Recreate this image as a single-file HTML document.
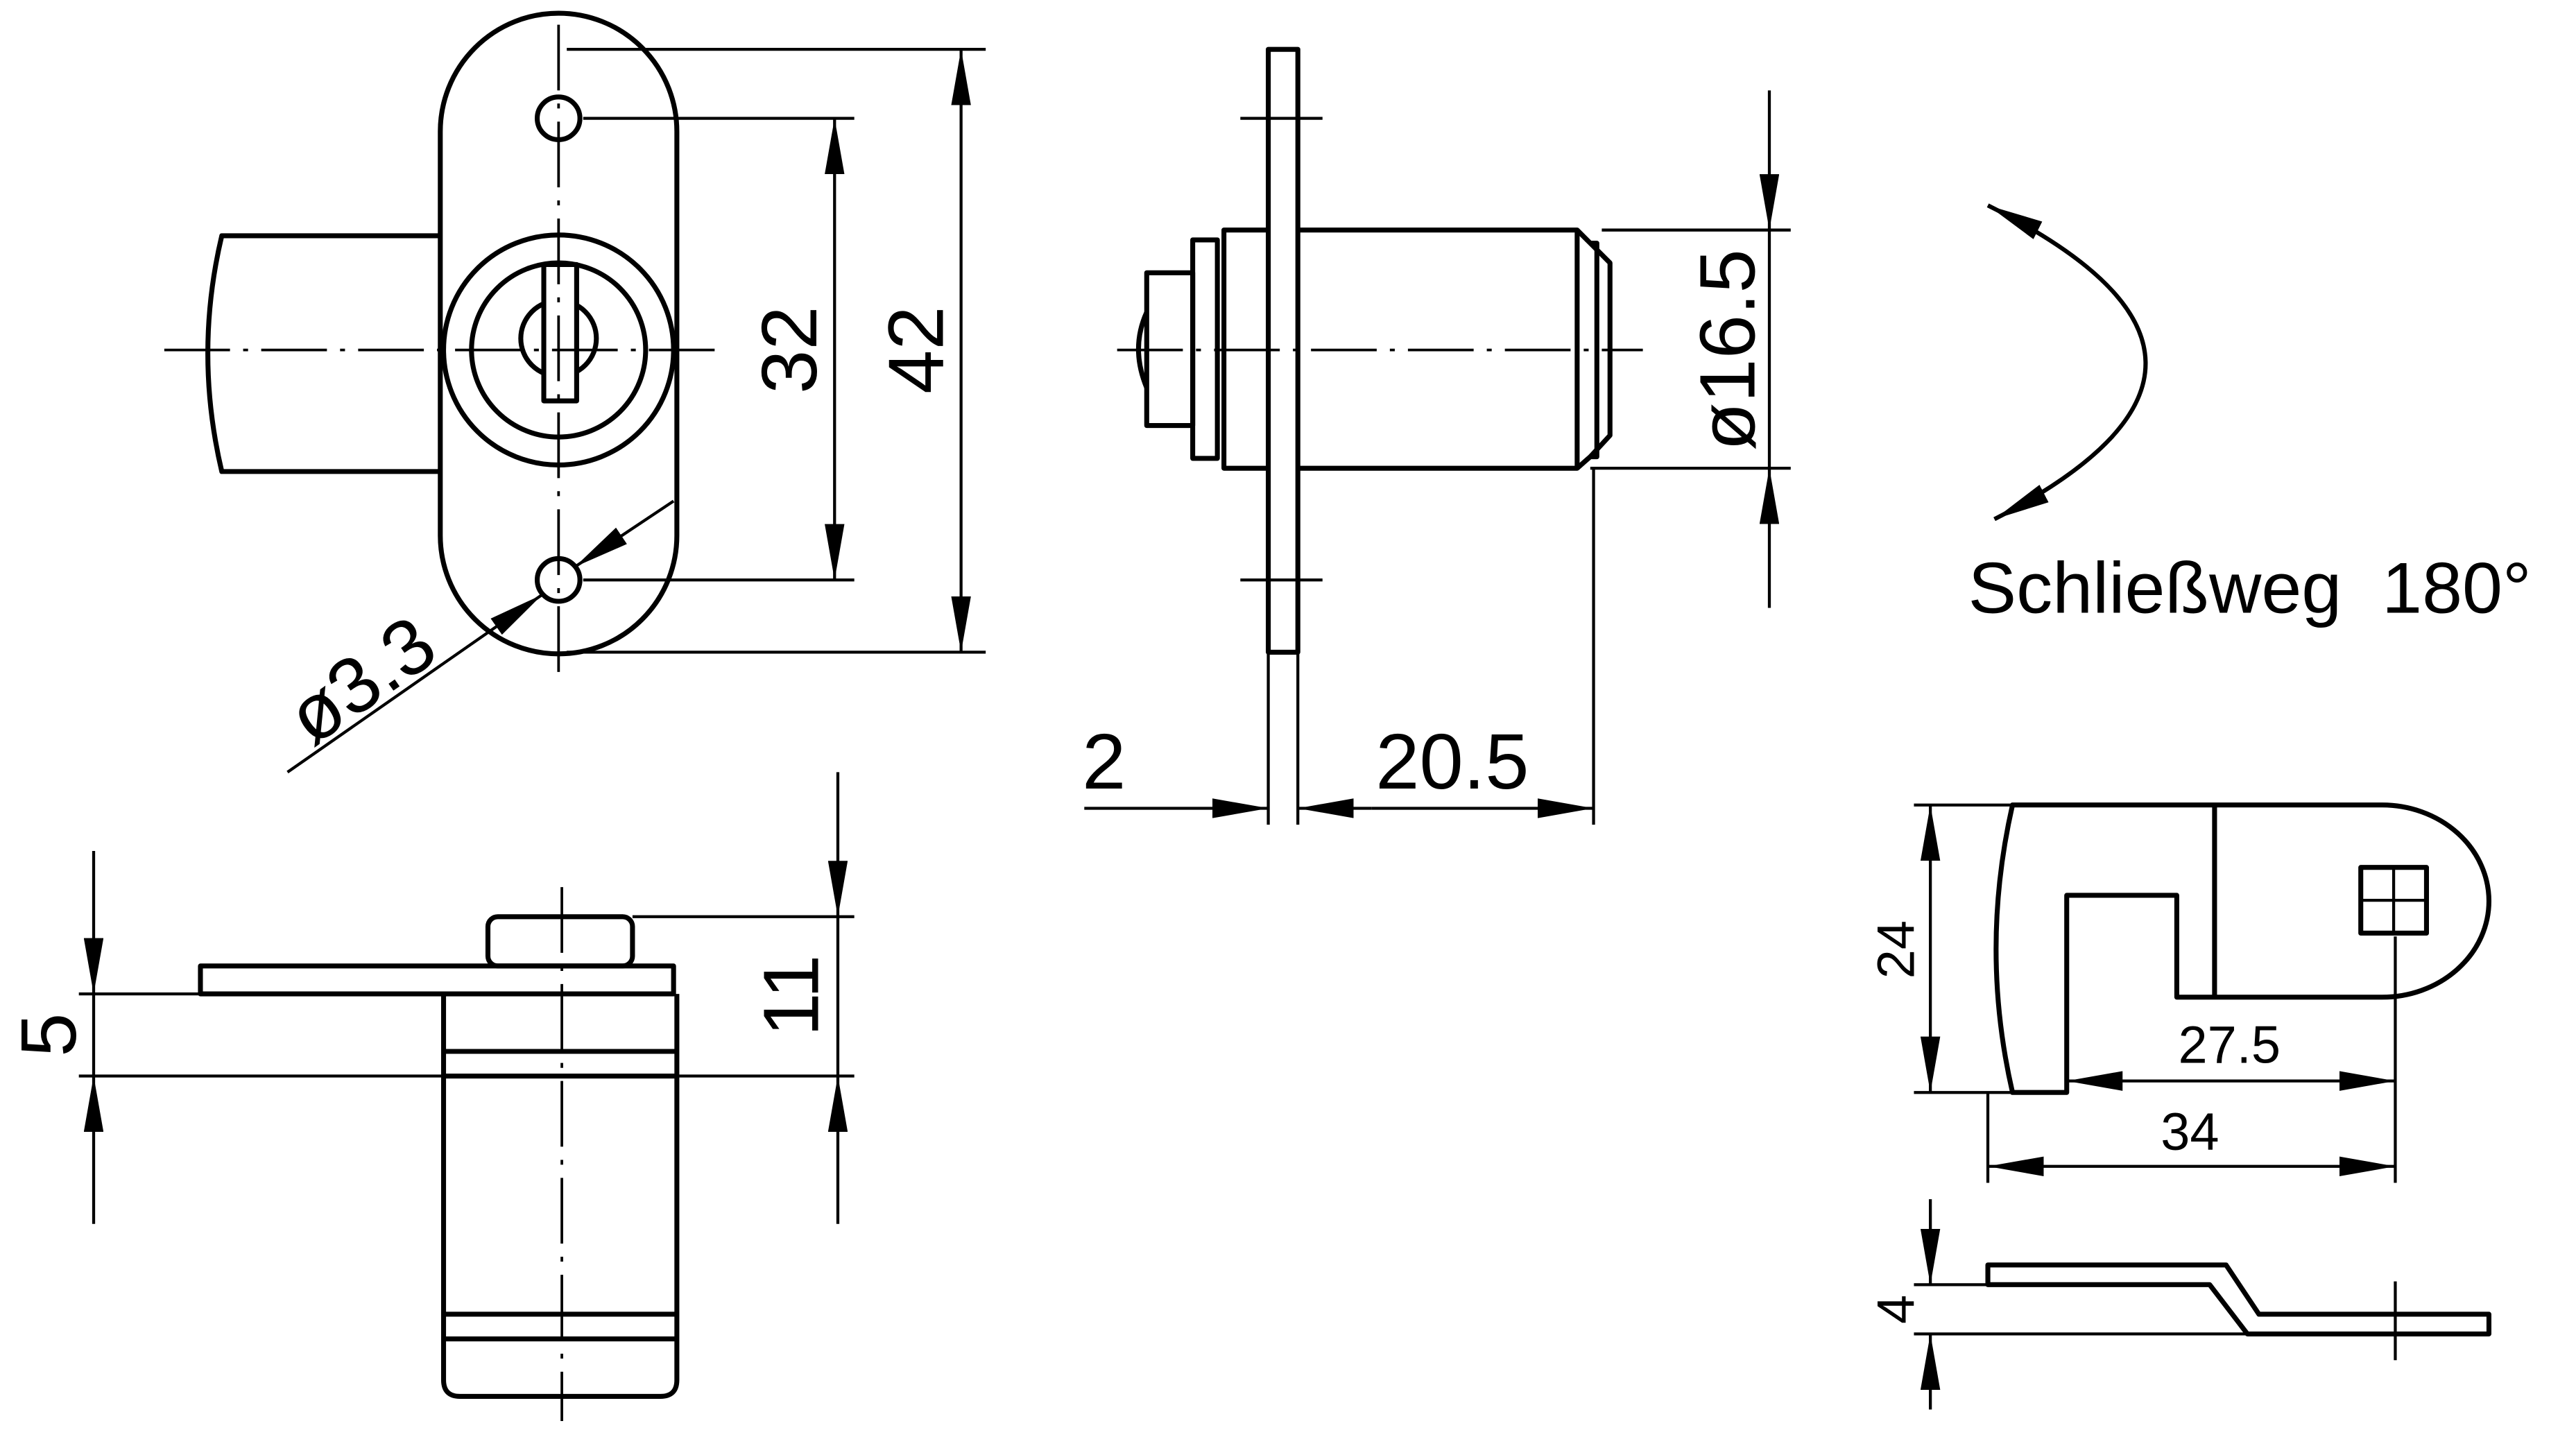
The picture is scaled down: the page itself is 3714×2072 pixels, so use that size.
<!DOCTYPE html>
<html><head><style>html,body{margin:0;padding:0;background:#fff}svg{display:block}</style></head><body>
<svg width="3714" height="2072" viewBox="0 0 1568 874.7" xmlns="http://www.w3.org/2000/svg" font-family="Liberation Sans, sans-serif">
<defs>
<marker id="a" viewBox="0 0 34 12" refX="34" refY="6" markerWidth="34" markerHeight="12" markerUnits="userSpaceOnUse" orient="auto-start-reverse"><path d="M0,0 L34,6 L0,12 Z" fill="#000"/></marker>
</defs>
<g fill="none" stroke="#000" stroke-width="3" stroke-linejoin="round">
<path d="M268,143.5 L135,143.5 Q118,215 135,287 L268,287"/>
<rect x="268" y="8" width="144" height="390" rx="72" fill="#fff"/>
<circle cx="340" cy="213" r="70"/>
<circle cx="340" cy="213" r="53"/>
<circle cx="340" cy="206" r="23"/>
<rect x="331" y="161" width="20" height="83" fill="#fff"/>
<circle cx="340" cy="72" r="13"/>
<circle cx="340" cy="353" r="13"/>
<rect x="772" y="30" width="18" height="367"/>
<path d="M790,140 L960,140 L968,148 L972,148 L972,278 L968,278 L960,285 L790,285"/>
<line x1="960" y1="140" x2="960" y2="285"/>
<path d="M968,148 L980,160 L980,265 L968,278"/>
<path d="M772,140 L745,140 L745,285 L772,285"/>
<rect x="726" y="146" width="15" height="133"/>
<rect x="698" y="166" width="28" height="93"/>
<path d="M698,190 Q688,212 698,236"/>
<rect x="122" y="588" width="288" height="17"/>
<rect x="297" y="558" width="88" height="30" rx="6"/>
<path d="M270,605 L270,840 Q270,850 280,850 L402,850 Q412,850 412,840 L412,605"/>
<line x1="270" y1="640" x2="412" y2="640"/>
<line x1="270" y1="655" x2="412" y2="655"/>
<line x1="270" y1="800" x2="412" y2="800"/>
<line x1="270" y1="815" x2="412" y2="815"/>
<path d="M1225,490 L1450,490 A65,58.5 0 0 1 1450,607 L1325,607 L1325,545 L1258,545 L1258,665 L1225,665 Q1205,578 1225,490 Z"/>
<line x1="1348" y1="490" x2="1348" y2="607"/>
<rect x="1437" y="528" width="40" height="40"/>
<path d="M1210,770 L1355,770 L1375,800 L1515,800 L1515,812 L1368,812 L1345,782 L1210,782 Z"/>
<path d="M1210,125 Q1400,220 1214,316" marker-start="url(#a)" marker-end="url(#a)" stroke-width="2.6"/>
</g>
<g fill="none" stroke="#000" stroke-width="1.6" stroke-dasharray="40,8,3,8">
<line x1="100" y1="213" x2="440" y2="213"/>
<line x1="340" y1="15" x2="340" y2="410"/>
<line x1="680" y1="213" x2="1000" y2="213"/>
<line x1="342" y1="540" x2="342" y2="865"/>
</g>
<g fill="none" stroke="#000" stroke-width="1.8">
<line x1="755" y1="72" x2="805" y2="72"/><line x1="755" y1="353" x2="805" y2="353"/>
<line x1="1437" y1="548" x2="1477" y2="548"/><line x1="1457" y1="528" x2="1457" y2="568"/>
<line x1="1458" y1="780" x2="1458" y2="828"/>
<line x1="355" y1="72" x2="520" y2="72"/><line x1="355" y1="353" x2="520" y2="353"/>
<line x1="508" y1="72" x2="508" y2="353" marker-start="url(#a)" marker-end="url(#a)"/>
<line x1="345" y1="30" x2="600" y2="30"/><line x1="345" y1="397" x2="600" y2="397"/>
<line x1="585" y1="30" x2="585" y2="397" marker-start="url(#a)" marker-end="url(#a)"/>
<line x1="175" y1="470" x2="330" y2="362" marker-end="url(#a)"/>
<line x1="410" y1="305" x2="350" y2="345" marker-end="url(#a)"/>
<line x1="975" y1="140" x2="1090" y2="140"/><line x1="968" y1="285" x2="1090" y2="285"/>
<line x1="1077" y1="55" x2="1077" y2="140" marker-end="url(#a)"/>
<line x1="1077" y1="370" x2="1077" y2="285" marker-end="url(#a)"/>
<line x1="1077" y1="140" x2="1077" y2="285"/>
<line x1="772" y1="397" x2="772" y2="502"/><line x1="790" y1="397" x2="790" y2="502"/><line x1="970" y1="285" x2="970" y2="502"/>
<line x1="660" y1="492" x2="772" y2="492" marker-end="url(#a)"/>
<line x1="835" y1="492" x2="790" y2="492" marker-end="url(#a)"/>
<line x1="835" y1="492" x2="970" y2="492" marker-end="url(#a)"/>
<line x1="48" y1="605" x2="122" y2="605"/><line x1="48" y1="655" x2="520" y2="655"/>
<line x1="57" y1="518" x2="57" y2="605" marker-end="url(#a)"/>
<line x1="57" y1="745" x2="57" y2="655" marker-end="url(#a)"/>
<line x1="57" y1="605" x2="57" y2="655"/>
<line x1="385" y1="558" x2="520" y2="558"/>
<line x1="510" y1="470" x2="510" y2="558" marker-end="url(#a)"/>
<line x1="510" y1="745" x2="510" y2="655" marker-end="url(#a)"/>
<line x1="510" y1="558" x2="510" y2="655"/>
<line x1="1165" y1="490" x2="1225" y2="490"/><line x1="1165" y1="665" x2="1225" y2="665"/>
<line x1="1175" y1="490" x2="1175" y2="665" marker-start="url(#a)" marker-end="url(#a)"/>
<line x1="1458" y1="570" x2="1458" y2="720"/><line x1="1210" y1="665" x2="1210" y2="720"/>
<line x1="1258" y1="658" x2="1458" y2="658" marker-start="url(#a)" marker-end="url(#a)"/>
<line x1="1210" y1="710" x2="1458" y2="710" marker-start="url(#a)" marker-end="url(#a)"/>
<line x1="1165" y1="782" x2="1210" y2="782"/><line x1="1165" y1="812" x2="1368" y2="812"/>
<line x1="1175" y1="730" x2="1175" y2="782" marker-end="url(#a)"/>
<line x1="1175" y1="858" x2="1175" y2="812" marker-end="url(#a)"/>
</g>
<g fill="#000" font-size="48">
<text transform="translate(497,213) rotate(-90)" text-anchor="middle">32</text>
<text transform="translate(574,213) rotate(-90)" text-anchor="middle">42</text>
<text transform="translate(190,455) rotate(-35)" text-anchor="start">ø3.3</text>
<text transform="translate(1068,213) rotate(-90)" text-anchor="middle">ø16.5</text>
<text x="672" y="480" text-anchor="middle">2</text>
<text x="884" y="480" text-anchor="middle">20.5</text>
<text transform="translate(46,630) rotate(-90)" text-anchor="middle">5</text>
<text transform="translate(498,606) rotate(-90)" text-anchor="middle">11</text>
<text x="1198" y="373" font-size="44">Schließweg&#160;&#160;180°</text>
<g font-size="32">
<text transform="translate(1165,578) rotate(-90)" text-anchor="middle">24</text>
<text x="1357" y="647" text-anchor="middle">27.5</text>
<text x="1333" y="700" text-anchor="middle">34</text>
<text transform="translate(1165,797) rotate(-90)" text-anchor="middle">4</text>
</g>
</g>
</svg>
</body></html>
